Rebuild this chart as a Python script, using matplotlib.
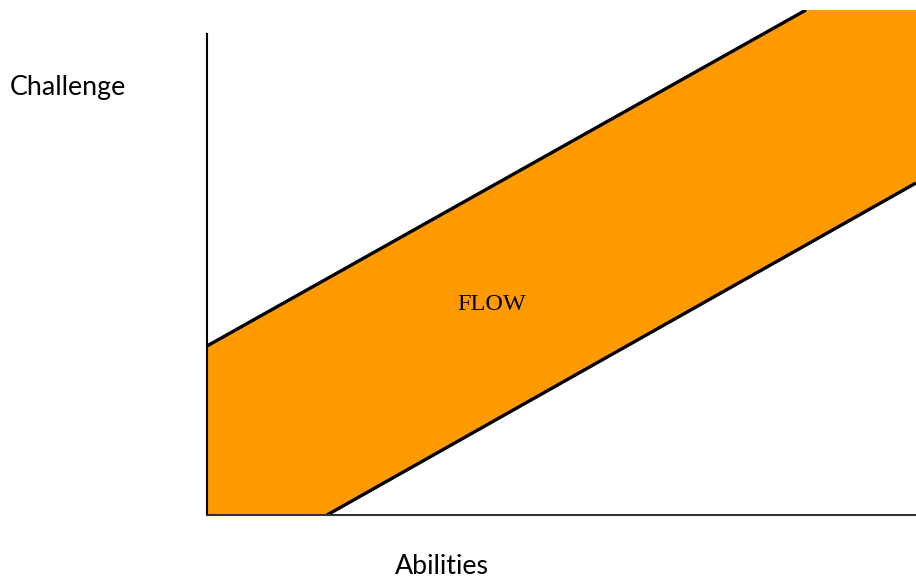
import matplotlib
matplotlib.use("Agg")
import matplotlib.pyplot as plt

# band edges (abilities, challenge) in chart units
upper_x = [0, 599]
upper_y = [169, 505]
lower_x = [120, 709]
lower_y = [0, 332]
x_max = 709
y_max = 505
axis_top = 481

band_label = "FLOW"
x_label = "Abilities"
y_label = "Challenge"

fig = plt.figure(figsize=(9.16, 5.80), dpi=100)
ax = fig.add_axes([207 / 916, 65 / 580, 709 / 916, 505 / 580])

# filled band: along bottom, up the left edge, along upper line, across the top, down the right edge, back along lower line
poly_x = [0, 0] + upper_x[1:] + [x_max, x_max] + lower_x[::-1][1:]
poly_y = [0] + upper_y + [y_max] + [lower_y[1]] + lower_y[::-1][1:]
ax.fill(poly_x, poly_y, color="#FF9A00", linewidth=0, zorder=1)

ax.plot(upper_x, upper_y, color="black", linewidth=2.4, solid_capstyle="butt", zorder=3)
ax.plot(lower_x, lower_y, color="black", linewidth=2.4, solid_capstyle="butt", zorder=3)

ax.text(285, 210, band_label, fontsize=17.5, family="Liberation Serif", ha="center", va="center", zorder=4)

ax.set_xlim(0, x_max)
ax.set_ylim(0, y_max)
ax.set_xticks([])
ax.set_yticks([])
ax.spines["top"].set_visible(False)
ax.spines["right"].set_visible(False)
ax.spines["left"].set_bounds(0, axis_top)
ax.spines["left"].set_linewidth(1.5)
ax.spines["bottom"].set_linewidth(1.5)
ax.spines["bottom"].set_color("#333333")
for s in ax.spines.values():
    s.set_zorder(5)
ax.patch.set_visible(False)

fig.text(10 / 916, 1 - 88 / 580, y_label, fontsize=19.3, family="Lato", ha="left", va="center")
fig.text(442 / 916, 1 - 567 / 580, x_label, fontsize=19.3, family="Lato", ha="center", va="center")

fig.savefig("out.png", dpi=100)
